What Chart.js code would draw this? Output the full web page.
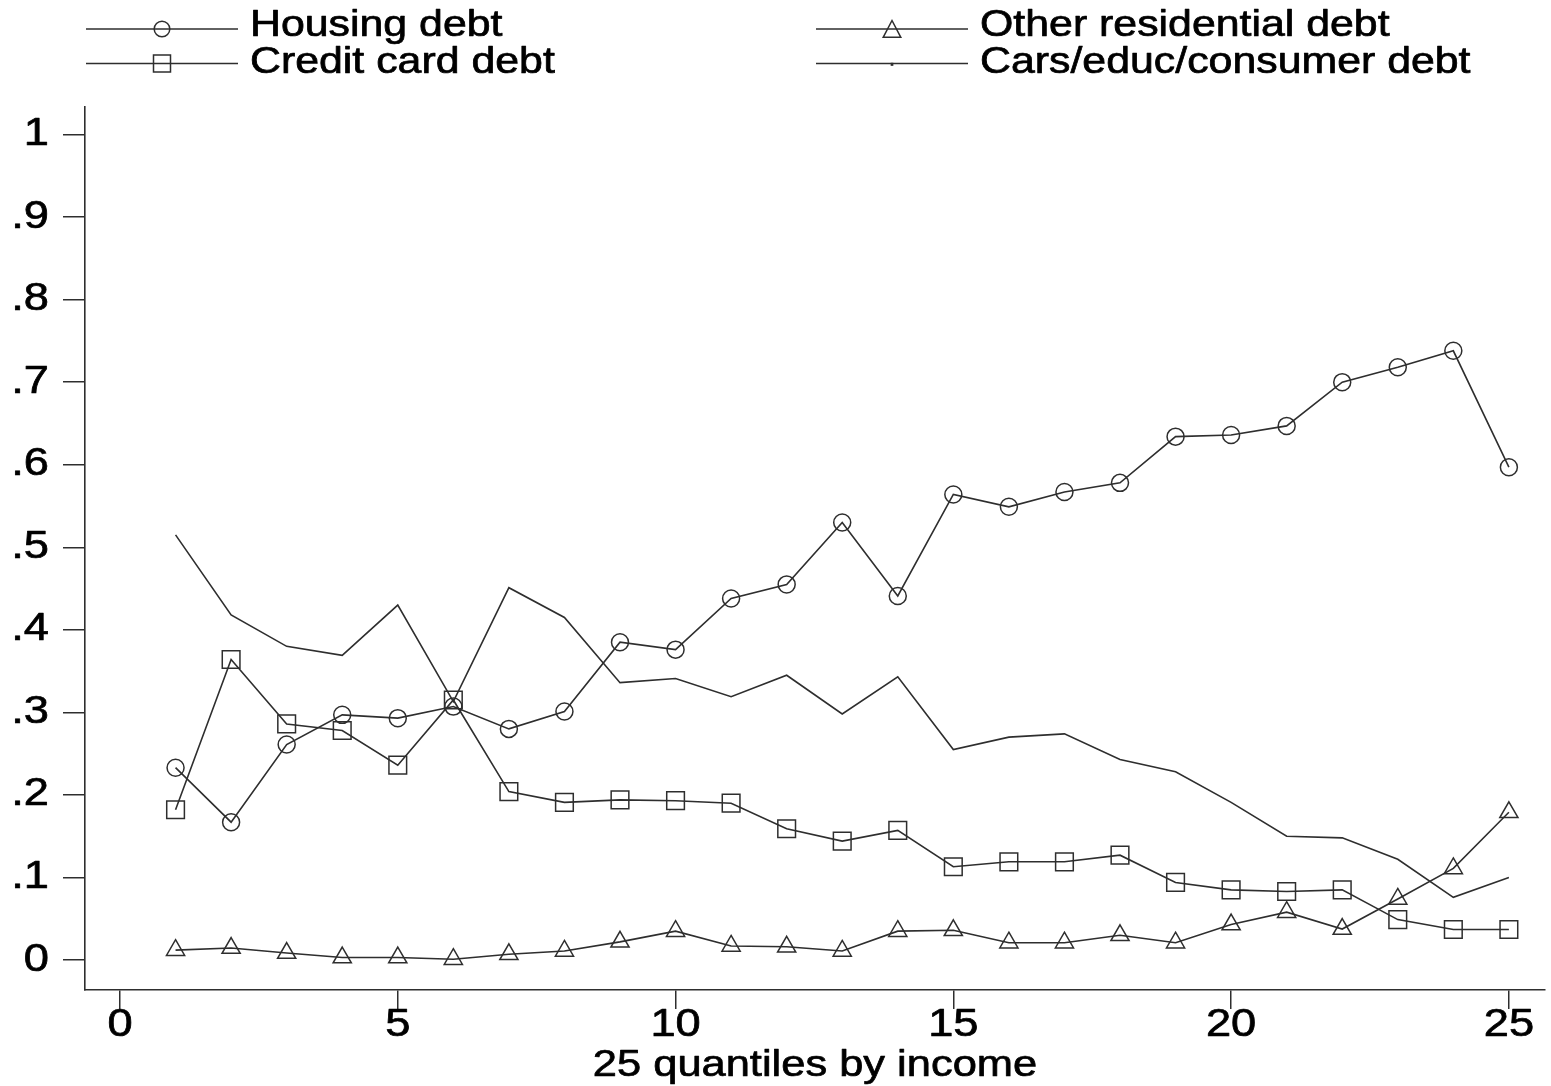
<!DOCTYPE html>
<html>
<head>
<meta charset="utf-8">
<title>Debt by income quantile</title>
<script src="https://cdn.jsdelivr.net/npm/chart.js@4/dist/chart.umd.min.js"></script>
<style>
  html, body { margin: 0; padding: 0; background: #fff; }
  #wrap { width: 1551px; height: 1086px; position: relative; }
</style>
</head>
<body>
<div id="wrap"><canvas id="chart" width="1551" height="1086"></canvas></div>
<script>
// Income quantiles (x) and the share of households holding each kind of debt
const quantiles = [1,2,3,4,5,6,7,8,9,10,11,12,13,14,15,16,17,18,19,20,21,22,23,24,25];
const housingDebt = [0.233,0.167,0.261,0.297,0.293,0.307,0.280,0.301,0.385,0.376,0.438,0.455,0.530,0.441,0.564,0.549,0.567,0.578,0.634,0.636,0.647,0.700,0.718,0.738,0.597];
const otherResidentialDebt = [0.012,0.0145,0.0085,0.003,0.003,0.001,0.007,0.011,0.022,0.035,0.017,0.016,0.011,0.035,0.036,0.021,0.021,0.030,0.021,0.043,0.058,0.0375,0.074,0.111,0.179];
const creditCardDebt = [0.182,0.364,0.286,0.278,0.236,0.315,0.204,0.191,0.194,0.193,0.190,0.159,0.144,0.157,0.113,0.119,0.119,0.127,0.094,0.085,0.083,0.085,0.049,0.037,0.037];
const consumerDebt = [0.515,0.418,0.380,0.369,0.430,0.313,0.451,0.415,0.336,0.341,0.319,0.345,0.298,0.343,0.255,0.270,0.274,0.243,0.228,0.191,0.150,0.148,0.122,0.076,0.100];

// Axis ticks and their printed labels
const xTickValues = [0,5,10,15,20,25];
const xTickLabels = ['0','5','10','15','20','25'];
const yTickValues = [0,0.1,0.2,0.3,0.4,0.5,0.6,0.7,0.8,0.9,1];
const yTickLabels = ['0','.1','.2','.3','.4','.5','.6','.7','.8','.9','1'];

const FONT = '"Liberation Sans", Arial, sans-serif';
const INK = '#2e2e2e';
const TEXT_STRETCH = 1.19;   // text is set slightly wide

const canvas = document.getElementById('chart');
const ctx2d = canvas.getContext('2d');

// Widen every text run horizontally around its anchor point, with a hairline outline for weight
const plainFillText = ctx2d.fillText.bind(ctx2d);
const plainStrokeText = ctx2d.strokeText.bind(ctx2d);
ctx2d.fillText = function (text, x, y) {
  this.save();
  this.translate(x, y);
  this.scale(TEXT_STRETCH, 1);
  plainFillText(text, 0, 0);
  this.strokeStyle = this.fillStyle;
  this.lineWidth = 0.7;
  this.lineJoin = 'round';
  plainStrokeText(text, 0, 0);
  this.restore();
};

const toPoints = vals => quantiles.map((q, i) => ({ x: q, y: vals[i] }));

const series = [
  { label: 'Housing debt', data: housingDebt, style: 'circle', r: 8.5, col: 0, row: 0 },
  { label: 'Other residential debt', data: otherResidentialDebt, style: 'triangle', r: 10.5, col: 1, row: 0 },
  { label: 'Credit card debt', data: creditCardDebt, style: 'rect', r: 12.5, col: 0, row: 1 },
  { label: 'Cars/educ/consumer debt', data: consumerDebt, style: 'none', r: 0, col: 1, row: 1 }
];

// Two-column legend: a line sample with the marker in its middle, then the label
const legendPlugin = {
  id: 'lineMarkerLegend',
  afterDraw(chart) {
    const ctx = chart.ctx;
    const cols = [{ x1: 86, x2: 238, tx: 250 }, { x1: 816, x2: 968, tx: 980 }];
    const rows = [{ ly: 29, ty: 35.5 }, { ly: 63.5, ty: 72.5 }];
    ctx.save();
    series.forEach(s => {
      const c = cols[s.col], r = rows[s.row];
      ctx.strokeStyle = INK;
      ctx.lineWidth = 1.5;
      ctx.beginPath();
      ctx.moveTo(c.x1, r.ly);
      ctx.lineTo(c.x2, r.ly);
      ctx.stroke();
      const mx = (c.x1 + c.x2) / 2, my = r.ly;
      ctx.beginPath();
      if (s.style === 'circle') {
        ctx.arc(mx, my, 7.8, 0, Math.PI * 2);
      } else if (s.style === 'rect') {
        ctx.rect(mx - 8.5, my - 8.5, 17, 17);
      } else if (s.style === 'triangle') {
        ctx.moveTo(mx, my - 8.5);
        ctx.lineTo(mx + 8.8, my + 8.3);
        ctx.lineTo(mx - 8.8, my + 8.3);
        ctx.closePath();
      } else {
        ctx.rect(mx - 0.6, my, 1.2, 1.6);
      }
      ctx.stroke();
      ctx.fillStyle = '#000';
      ctx.font = '36px ' + FONT;
      ctx.textAlign = 'left';
      ctx.textBaseline = 'alphabetic';
      ctx.fillText(s.label, c.tx, r.ty);
    });
    ctx.restore();
  }
};

new Chart(canvas, {
  type: 'line',
  data: {
    datasets: series.map(s => ({
      label: s.label,
      data: toPoints(s.data),
      borderColor: INK,
      borderWidth: 1.6,
      pointStyle: s.style === 'none' ? false : s.style,
      pointRadius: s.r,
      pointBorderColor: INK,
      pointBorderWidth: 1.5,
      pointBackgroundColor: 'rgba(0,0,0,0)',
      tension: 0,
      fill: false
    }))
  },
  options: {
    responsive: false,
    animation: false,
    events: [],
    layout: { autoPadding: false, padding: { top: 107, right: 6, left: 0, bottom: 0 } },
    plugins: {
      legend: { display: false },
      tooltip: { enabled: false }
    },
    scales: {
      x: {
        type: 'linear',
        min: -0.63,
        max: 25.65,
        afterBuildTicks: s => { s.ticks = xTickValues.map(v => ({ value: v })); },
        afterFit: s => { s.height = 96; s.paddingLeft = 0; s.paddingRight = 0; },
        ticks: {
          autoSkip: false,
          maxRotation: 0,
          padding: -2,
          color: '#000',
          font: { family: FONT, size: 38, lineHeight: 1 },
          callback: v => xTickLabels[xTickValues.indexOf(v)]
        },
        grid: { drawOnChartArea: false, drawTicks: true, tickLength: 19, color: INK, lineWidth: 1.5 },
        border: { display: true, color: INK, width: 1.6 },
        title: {
          display: true,
          text: '25 quantiles by income',
          color: '#000',
          font: { family: FONT, size: 36.5, lineHeight: 1 },
          padding: { top: 0, bottom: 2 }
        }
      },
      y: {
        type: 'linear',
        min: -0.0363,
        max: 1.0333,
        afterBuildTicks: s => { s.ticks = yTickValues.map(v => ({ value: v })); },
        afterFit: s => { s.width = 85; s.paddingTop = 0; s.paddingBottom = 0; },
        ticks: {
          autoSkip: false,
          padding: 14,
          color: '#000',
          font: { family: FONT, size: 38, lineHeight: 1 },
          callback: v => yTickLabels[yTickValues.indexOf(v)]
        },
        grid: { drawOnChartArea: false, drawTicks: true, tickLength: 22, color: INK, lineWidth: 1.5 },
        border: { display: true, color: INK, width: 1.6 }
      }
    }
  },
  plugins: [legendPlugin]
});
</script>
</body>
</html>
